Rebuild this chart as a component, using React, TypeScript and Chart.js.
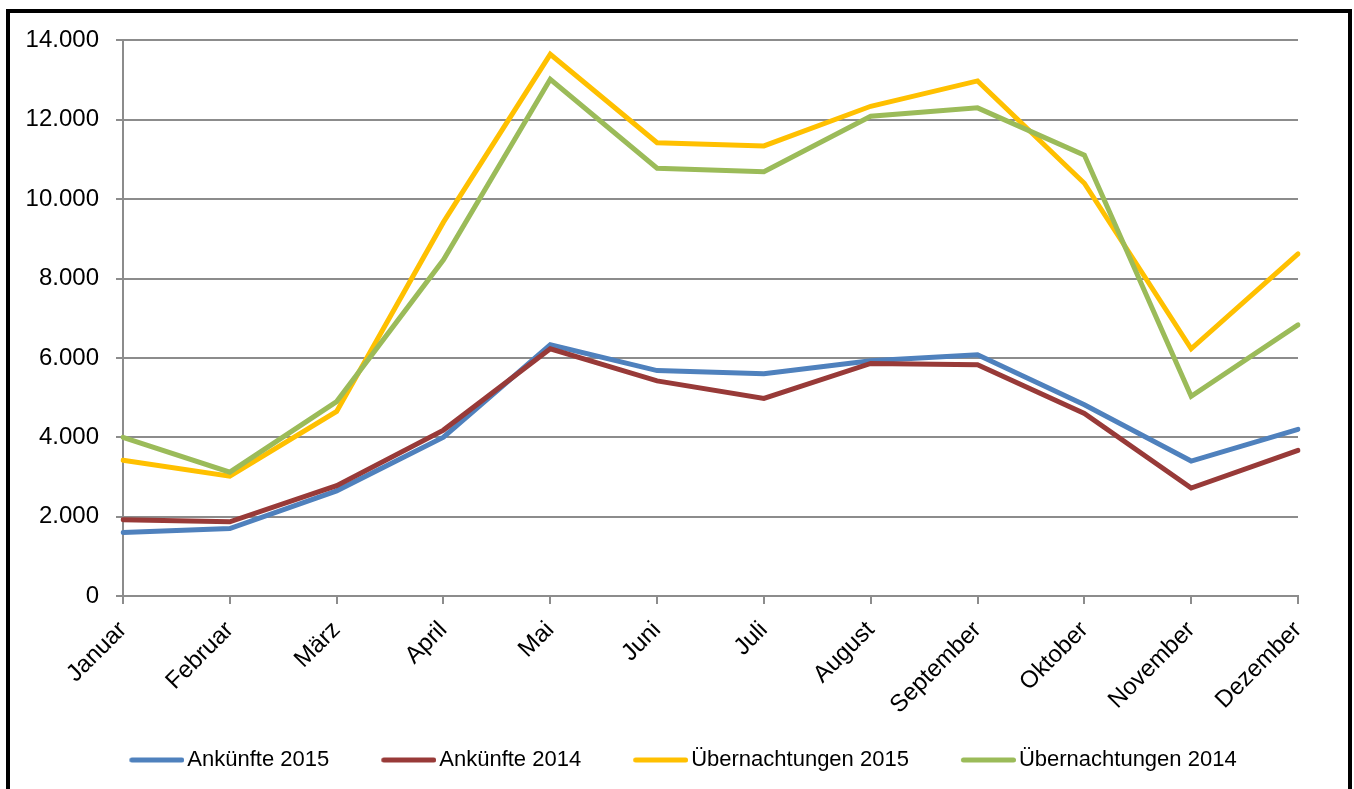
import React, { useEffect, useRef } from "react";
import { Chart, registerables } from "chart.js";

Chart.register(...registerables);

const months = ["Januar", "Februar", "März", "April", "Mai", "Juni", "Juli", "August", "September", "Oktober", "November", "Dezember"];
const ankuenfte2015 = [1600, 1700, 2650, 4000, 6330, 5680, 5600, 5930, 6080, 4820, 3400, 4200];
const ankuenfte2014 = [1920, 1870, 2780, 4180, 6230, 5420, 4980, 5860, 5830, 4600, 2720, 3670];
const uebernachtungen2015 = [3420, 3020, 4650, 9420, 13650, 11420, 11340, 12340, 12980, 10400, 6230, 8620];
const uebernachtungen2014 = [4000, 3120, 4900, 8470, 13020, 10780, 10690, 12090, 12300, 11110, 5030, 6830];
const seriesNames = ["Ankünfte 2015", "Ankünfte 2014", "Übernachtungen 2015", "Übernachtungen 2014"];
const seriesColors = ["#4F81BD", "#983A38", "#FFC000", "#9BBB59"];

const FONT = "'Liberation Sans', Arial, sans-serif";

function formatDe(v: number): string {
  return String(Math.round(v)).replace(/\B(?=(\d{3})+(?!\d))/g, ".");
}

function makeLegendLine(color: string): HTMLCanvasElement {
  const c = document.createElement("canvas");
  c.width = 63;
  c.height = 8;
  const ctx = c.getContext("2d");
  if (ctx) {
    ctx.strokeStyle = color;
    ctx.lineWidth = 5;
    ctx.lineCap = "round";
    ctx.beginPath();
    ctx.moveTo(10.5, 4);
    ctx.lineTo(60.5, 4);
    ctx.stroke();
  }
  return c;
}

// widen the clip areas of the tick labels so that they are not cut
const unclipLabels = {
  id: "unclipLabels",
  afterLayout(chart: any) {
    const x = chart.scales.x;
    const y = chart.scales.y;
    if (x) x.bottom = chart.height;
    if (y) y.left = 0;
  },
};

export default function App() {
  const ref = useRef<HTMLCanvasElement | null>(null);
  useEffect(() => {
    if (!ref.current) return;
    const values = [ankuenfte2015, ankuenfte2014, uebernachtungen2015, uebernachtungen2014];
    const legendImgs = seriesColors.map(makeLegendLine);
    const chart = new Chart(ref.current, {
      type: "line",
      data: {
        labels: months,
        datasets: values.map((d, i) => ({
          label: seriesNames[i],
          data: d,
          borderColor: seriesColors[i],
          backgroundColor: seriesColors[i],
          borderWidth: 5,
          pointRadius: 0,
          pointHoverRadius: 0,
          tension: 0,
          fill: false,
          borderJoinStyle: "miter" as const,
          borderCapStyle: "round" as const,
          order: 3 - i,
        })),
      },
      plugins: [unclipLabels],
      options: {
        responsive: false,
        animation: false,
        events: [],
        layout: { padding: { left: 58, right: 50, top: 0, bottom: 8 } },
        plugins: {
          tooltip: { enabled: false },
          legend: {
            position: "bottom",
            align: "center",
            labels: {
              color: "#000",
              font: { family: FONT, size: 22 },
              usePointStyle: true,
              pointStyleWidth: 47,
              boxWidth: 47,
              boxHeight: 22,
              padding: 52,
              sort: (a: any, b: any) => a.datasetIndex - b.datasetIndex,
              generateLabels: (ch: any) => {
                const items = Chart.defaults.plugins.legend.labels.generateLabels(ch);
                return items.map((it: any) => ({
                  ...it,
                  pointStyle: legendImgs[it.datasetIndex],
                }));
              },
            },
          },
        },
        scales: {
          x: {
            offset: false,
            grid: {
              display: true,
              drawOnChartArea: false,
              drawTicks: true,
              tickLength: 8,
              color: "#8C8C8C",
              lineWidth: 2,
            },
            border: { display: true, color: "#8C8C8C", width: 2 },
            ticks: {
              color: "#000",
              font: { family: FONT, size: 24 },
              maxRotation: 45,
              minRotation: 45,
              autoSkip: false,
              padding: 12,
            },
            afterFit: (scale: any) => {
              scale.height = 101;
            },
          },
          y: {
            min: 0,
            max: 14000,
            grid: {
              color: "#8C8C8C",
              lineWidth: 2,
              drawTicks: true,
              tickLength: 7,
            },
            border: { display: true, color: "#8C8C8C", width: 2 },
            ticks: {
              stepSize: 2000,
              color: "#000",
              font: { family: FONT, size: 24 },
              padding: 17,
              callback: (v: any) => formatDe(Number(v)),
            },
            afterFit: (scale: any) => {
              scale.width = 55;
            },
          },
        },
      },
    });
    return () => chart.destroy();
  }, []);

  return (
    <div
      style={{
        position: "fixed",
        left: 6,
        top: 9,
        width: 1338,
        height: 800,
        border: "4px solid #000",
        background: "#fff",
        overflow: "hidden",
      }}
    >
      <canvas
        ref={ref}
        width={1338}
        height={780}
        style={{ display: "block", position: "relative", top: -4, width: 1338, height: 780 }}
      />
    </div>
  );
}
